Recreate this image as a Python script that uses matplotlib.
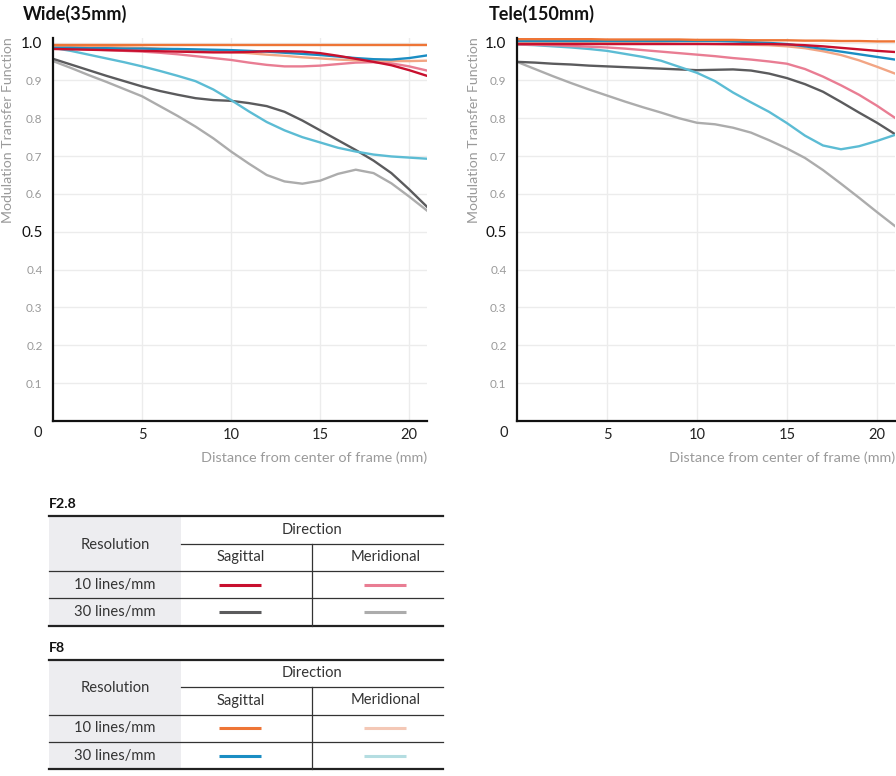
import matplotlib
matplotlib.use("Agg")
import matplotlib.pyplot as plt
from matplotlib.patches import Rectangle

plt.rcParams['font.family'] = ['Lato', 'DejaVu Sans']

# ---------------- data ----------------
x_mm = list(range(22))

# Wide (35mm)
wide_f28_10s = [0.983, 0.982, 0.981, 0.980, 0.979, 0.978, 0.977, 0.976, 0.975, 0.974, 0.974,
                0.975, 0.977, 0.977, 0.976, 0.972, 0.965, 0.957, 0.949, 0.940, 0.927, 0.912]
wide_f28_10m = [0.985, 0.984, 0.982, 0.980, 0.978, 0.976, 0.973, 0.969, 0.964, 0.959, 0.954,
                0.947, 0.941, 0.937, 0.937, 0.939, 0.943, 0.947, 0.948, 0.945, 0.937, 0.926]
wide_f28_30s = [0.957, 0.942, 0.927, 0.912, 0.898, 0.884, 0.872, 0.862, 0.853, 0.848, 0.846,
                0.840, 0.832, 0.817, 0.794, 0.768, 0.742, 0.716, 0.688, 0.655, 0.612, 0.566]
wide_f28_30m = [0.951, 0.933, 0.914, 0.896, 0.877, 0.858, 0.832, 0.806, 0.778, 0.747, 0.712,
                0.680, 0.650, 0.633, 0.627, 0.635, 0.653, 0.664, 0.655, 0.628, 0.593, 0.556]
wide_f8_10s = [0.993, 0.993, 0.993, 0.993, 0.993, 0.993, 0.993, 0.993, 0.993, 0.993, 0.993,
               0.993, 0.993, 0.993, 0.993, 0.993, 0.993, 0.993, 0.993, 0.993, 0.993, 0.993]
wide_f8_10m = [0.990, 0.990, 0.989, 0.988, 0.987, 0.986, 0.984, 0.982, 0.980, 0.978, 0.975,
               0.972, 0.968, 0.965, 0.961, 0.958, 0.955, 0.953, 0.952, 0.951, 0.951, 0.952]
wide_f8_30s = [0.986, 0.986, 0.985, 0.985, 0.984, 0.984, 0.983, 0.983, 0.982, 0.981, 0.980,
               0.978, 0.976, 0.973, 0.970, 0.967, 0.963, 0.959, 0.956, 0.955, 0.959, 0.966]
wide_f8_30m = [0.986, 0.978, 0.968, 0.958, 0.948, 0.937, 0.925, 0.912, 0.898, 0.876, 0.848,
               0.818, 0.790, 0.768, 0.750, 0.736, 0.722, 0.712, 0.704, 0.699, 0.696, 0.693]

# Tele (150mm)
tele_f28_10s = [0.996, 0.996, 0.996, 0.996, 0.996, 0.996, 0.996, 0.996, 0.996, 0.996, 0.996,
                0.996, 0.996, 0.996, 0.996, 0.995, 0.993, 0.990, 0.986, 0.982, 0.978, 0.975]
tele_f28_10m = [0.995, 0.994, 0.993, 0.991, 0.989, 0.987, 0.984, 0.980, 0.976, 0.972, 0.968,
                0.964, 0.959, 0.955, 0.950, 0.944, 0.930, 0.910, 0.887, 0.862, 0.833, 0.801]
tele_f28_30s = [0.949, 0.947, 0.944, 0.942, 0.939, 0.937, 0.935, 0.933, 0.931, 0.929, 0.927,
                0.928, 0.929, 0.926, 0.918, 0.906, 0.890, 0.870, 0.843, 0.815, 0.788, 0.758]
tele_f28_30m = [0.949, 0.930, 0.911, 0.893, 0.876, 0.860, 0.844, 0.829, 0.815, 0.800, 0.788,
                0.784, 0.775, 0.762, 0.742, 0.720, 0.695, 0.663, 0.627, 0.590, 0.552, 0.515]
tele_f8_10s = [1.009, 1.009, 1.009, 1.009, 1.009, 1.008, 1.008, 1.008, 1.008, 1.008, 1.007,
               1.007, 1.007, 1.006, 1.006, 1.006, 1.005, 1.005, 1.004, 1.004, 1.003, 1.003]
tele_f8_10m = [1.000, 1.000, 1.000, 1.000, 0.999, 0.999, 0.999, 0.998, 0.998, 0.997, 0.997,
               0.996, 0.995, 0.994, 0.993, 0.990, 0.985, 0.977, 0.967, 0.953, 0.936, 0.918]
tele_f8_30s = [1.004, 1.004, 1.004, 1.004, 1.004, 1.004, 1.004, 1.004, 1.004, 1.004, 1.004,
               1.004, 1.003, 1.001, 0.999, 0.996, 0.990, 0.983, 0.976, 0.969, 0.962, 0.955]
tele_f8_30m = [0.995, 0.993, 0.990, 0.987, 0.983, 0.978, 0.970, 0.962, 0.952, 0.936, 0.920,
               0.898, 0.868, 0.842, 0.817, 0.787, 0.754, 0.728, 0.718, 0.726, 0.740, 0.756]

y_ticks = [0.1, 0.2, 0.3, 0.4, 0.5, 0.6, 0.7, 0.8, 0.9, 1.0]
y_tick_labels = ["0.1", "0.2", "0.3", "0.4", "0.5", "0.6", "0.7", "0.8", "0.9", "1.0"]
x_ticks = [5, 10, 15, 20]
x_tick_labels = ["5", "10", "15", "20"]

titles = ["Wide(35mm)", "Tele(150mm)"]
y_label = "Modulation Transfer Function"
x_label = "Distance from center of frame (mm)"

# colours
c_f28_10s = "#c8102e"
c_f28_10m = "#e97d93"
c_f28_30s = "#5b5b5d"
c_f28_30m = "#acacac"
c_f8_10s = "#ee7536"
c_f8_10m = "#f2a584"
c_f8_30s = "#1a8dc3"
c_f8_30m = "#5cbcd4"
leg_f8_10m = "#f4c8b6"
leg_f8_30m = "#b4dde1"

W, H = 896, 776
fig = plt.figure(figsize=(W / 100, H / 100), dpi=100)


def px_box(x0, y0, x1, y1):
    return [x0 / W, 1 - y1 / H, (x1 - x0) / W, (y1 - y0) / H]


def style_axes(ax):
    ax.set_xlim(0, 21)
    ax.set_ylim(0, 1.012)
    for s in ["top", "right"]:
        ax.spines[s].set_visible(False)
    for s in ["left", "bottom"]:
        ax.spines[s].set_linewidth(1.6)
        ax.spines[s].set_color("#111111")
    ax.set_xticks(x_ticks)
    ax.set_xticklabels(x_tick_labels)
    ax.set_yticks(y_ticks)
    ax.set_yticklabels(y_tick_labels)
    ax.tick_params(axis="both", length=0)
    ax.tick_params(axis="y", pad=7.5)
    ax.tick_params(axis="x", pad=5, labelsize=10.5, labelcolor="#222222")
    for lab, v in zip(ax.get_yticklabels(), y_ticks):
        if v in (0.5, 1.0):
            lab.set_fontsize(11)
            lab.set_color("#111111")
        else:
            lab.set_fontsize(8.5)
            lab.set_color("#9a9a9a")
    ax.grid(True, color="#ececec", linewidth=1.0)
    ax.set_axisbelow(True)


def plot_set(ax, s):
    order = [(s[3], c_f28_30m), (s[2], c_f28_30s), (s[7], c_f8_30m), (s[1], c_f28_10m),
             (s[5], c_f8_10m), (s[6], c_f8_30s), (s[0], c_f28_10s), (s[4], c_f8_10s)]
    for vals, col in order:
        ax.plot(x_mm, vals, color=col, lw=1.7, solid_joinstyle="round")


ax1 = fig.add_axes(px_box(53, 38, 427, 421))
style_axes(ax1)
plot_set(ax1, [wide_f28_10s, wide_f28_10m, wide_f28_30s, wide_f28_30m,
               wide_f8_10s, wide_f8_10m, wide_f8_30s, wide_f8_30m])

ax2 = fig.add_axes(px_box(517, 38, 895, 421))
style_axes(ax2)
plot_set(ax2, [tele_f28_10s, tele_f28_10m, tele_f28_30s, tele_f28_30m,
               tele_f8_10s, tele_f8_10m, tele_f8_30s, tele_f8_30m])

# titles, labels, corner zeros
fig.text(23 / W, 1 - 14 / H, titles[0], fontsize=13, fontweight="bold", ha="left", va="center", color="#111111")
fig.text(489 / W, 1 - 14 / H, titles[1], fontsize=13, fontweight="bold", ha="left", va="center", color="#111111")
fig.text(8 / W, 1 - 130 / H, y_label, rotation=90, fontsize=10.2, color="#9a9a9a", ha="center", va="center")
fig.text(474 / W, 1 - 130 / H, y_label, rotation=90, fontsize=10.2, color="#9a9a9a", ha="center", va="center")
fig.text(427 / W, 1 - 458 / H, x_label, fontsize=10.4, color="#9a9a9a", ha="right", va="center")
fig.text(895 / W, 1 - 458 / H, x_label, fontsize=10.4, color="#9a9a9a", ha="right", va="center")
fig.text(38 / W, 1 - 433 / H, "0", fontsize=10.5, color="#222222", ha="center", va="center")
fig.text(504 / W, 1 - 433 / H, "0", fontsize=10.5, color="#222222", ha="center", va="center")

# legend tables
axo = fig.add_axes([0, 0, 1, 1])
axo.set_xlim(0, W)
axo.set_ylim(H, 0)
axo.axis("off")
axo.patch.set_alpha(0)

table_titles = ["F2.8", "F8"]
table_tops = [516, 659.5]
table_colors = [[c_f28_10s, c_f28_10m, c_f28_30s, c_f28_30m],
                [c_f8_10s, leg_f8_10m, c_f8_30s, leg_f8_30m]]
row_labels = ["10 lines/mm", "30 lines/mm"]


def draw_table(top, title, cols):
    xl, xg, xd, xr = 48.5, 181, 312, 443
    bottom = top + 109.5
    tc = "#333333"
    fs = 10.6
    axo.add_patch(Rectangle((xl, top), xg - xl, bottom - top, facecolor="#ededf0", edgecolor="none"))
    axo.text(xl, top - 11.5, title, fontsize=10.2, fontweight="bold", ha="left", va="center", color="#111111")
    axo.plot([xl, xr], [top, top], color="#222222", lw=1.6)
    axo.plot([xl, xr], [bottom, bottom], color="#222222", lw=1.6)
    axo.plot([xg, xr], [top + 27.5, top + 27.5], color="#333333", lw=0.9)
    axo.plot([xl, xr], [top + 55, top + 55], color="#333333", lw=0.9)
    axo.plot([xl, xr], [top + 82.3, top + 82.3], color="#333333", lw=0.9)
    axo.plot([xd, xd], [top + 27.5, bottom], color="#333333", lw=0.9)
    axo.text(312, top + 13.5, "Direction", fontsize=fs, ha="center", va="center", color=tc)
    axo.text(115, top + 29, "Resolution", fontsize=fs, ha="center", va="center", color=tc)
    axo.text(241, top + 41, "Sagittal", fontsize=fs, ha="center", va="center", color=tc)
    axo.text(385.5, top + 41, "Meridional", fontsize=fs, ha="center", va="center", color=tc)
    for i, lab in enumerate(row_labels):
        yy = top + 68.8 + i * 27.3
        axo.text(115, yy, lab, fontsize=fs, ha="center", va="center", color=tc)
        axo.plot([219, 261], [yy, yy], color=cols[2 * i], lw=2.2, solid_capstyle="butt")
        axo.plot([364, 406], [yy, yy], color=cols[2 * i + 1], lw=2.2, solid_capstyle="butt")


for t, top, cols in zip(table_titles, table_tops, table_colors):
    draw_table(top, t, cols)

fig.savefig("out.png", dpi=100)
